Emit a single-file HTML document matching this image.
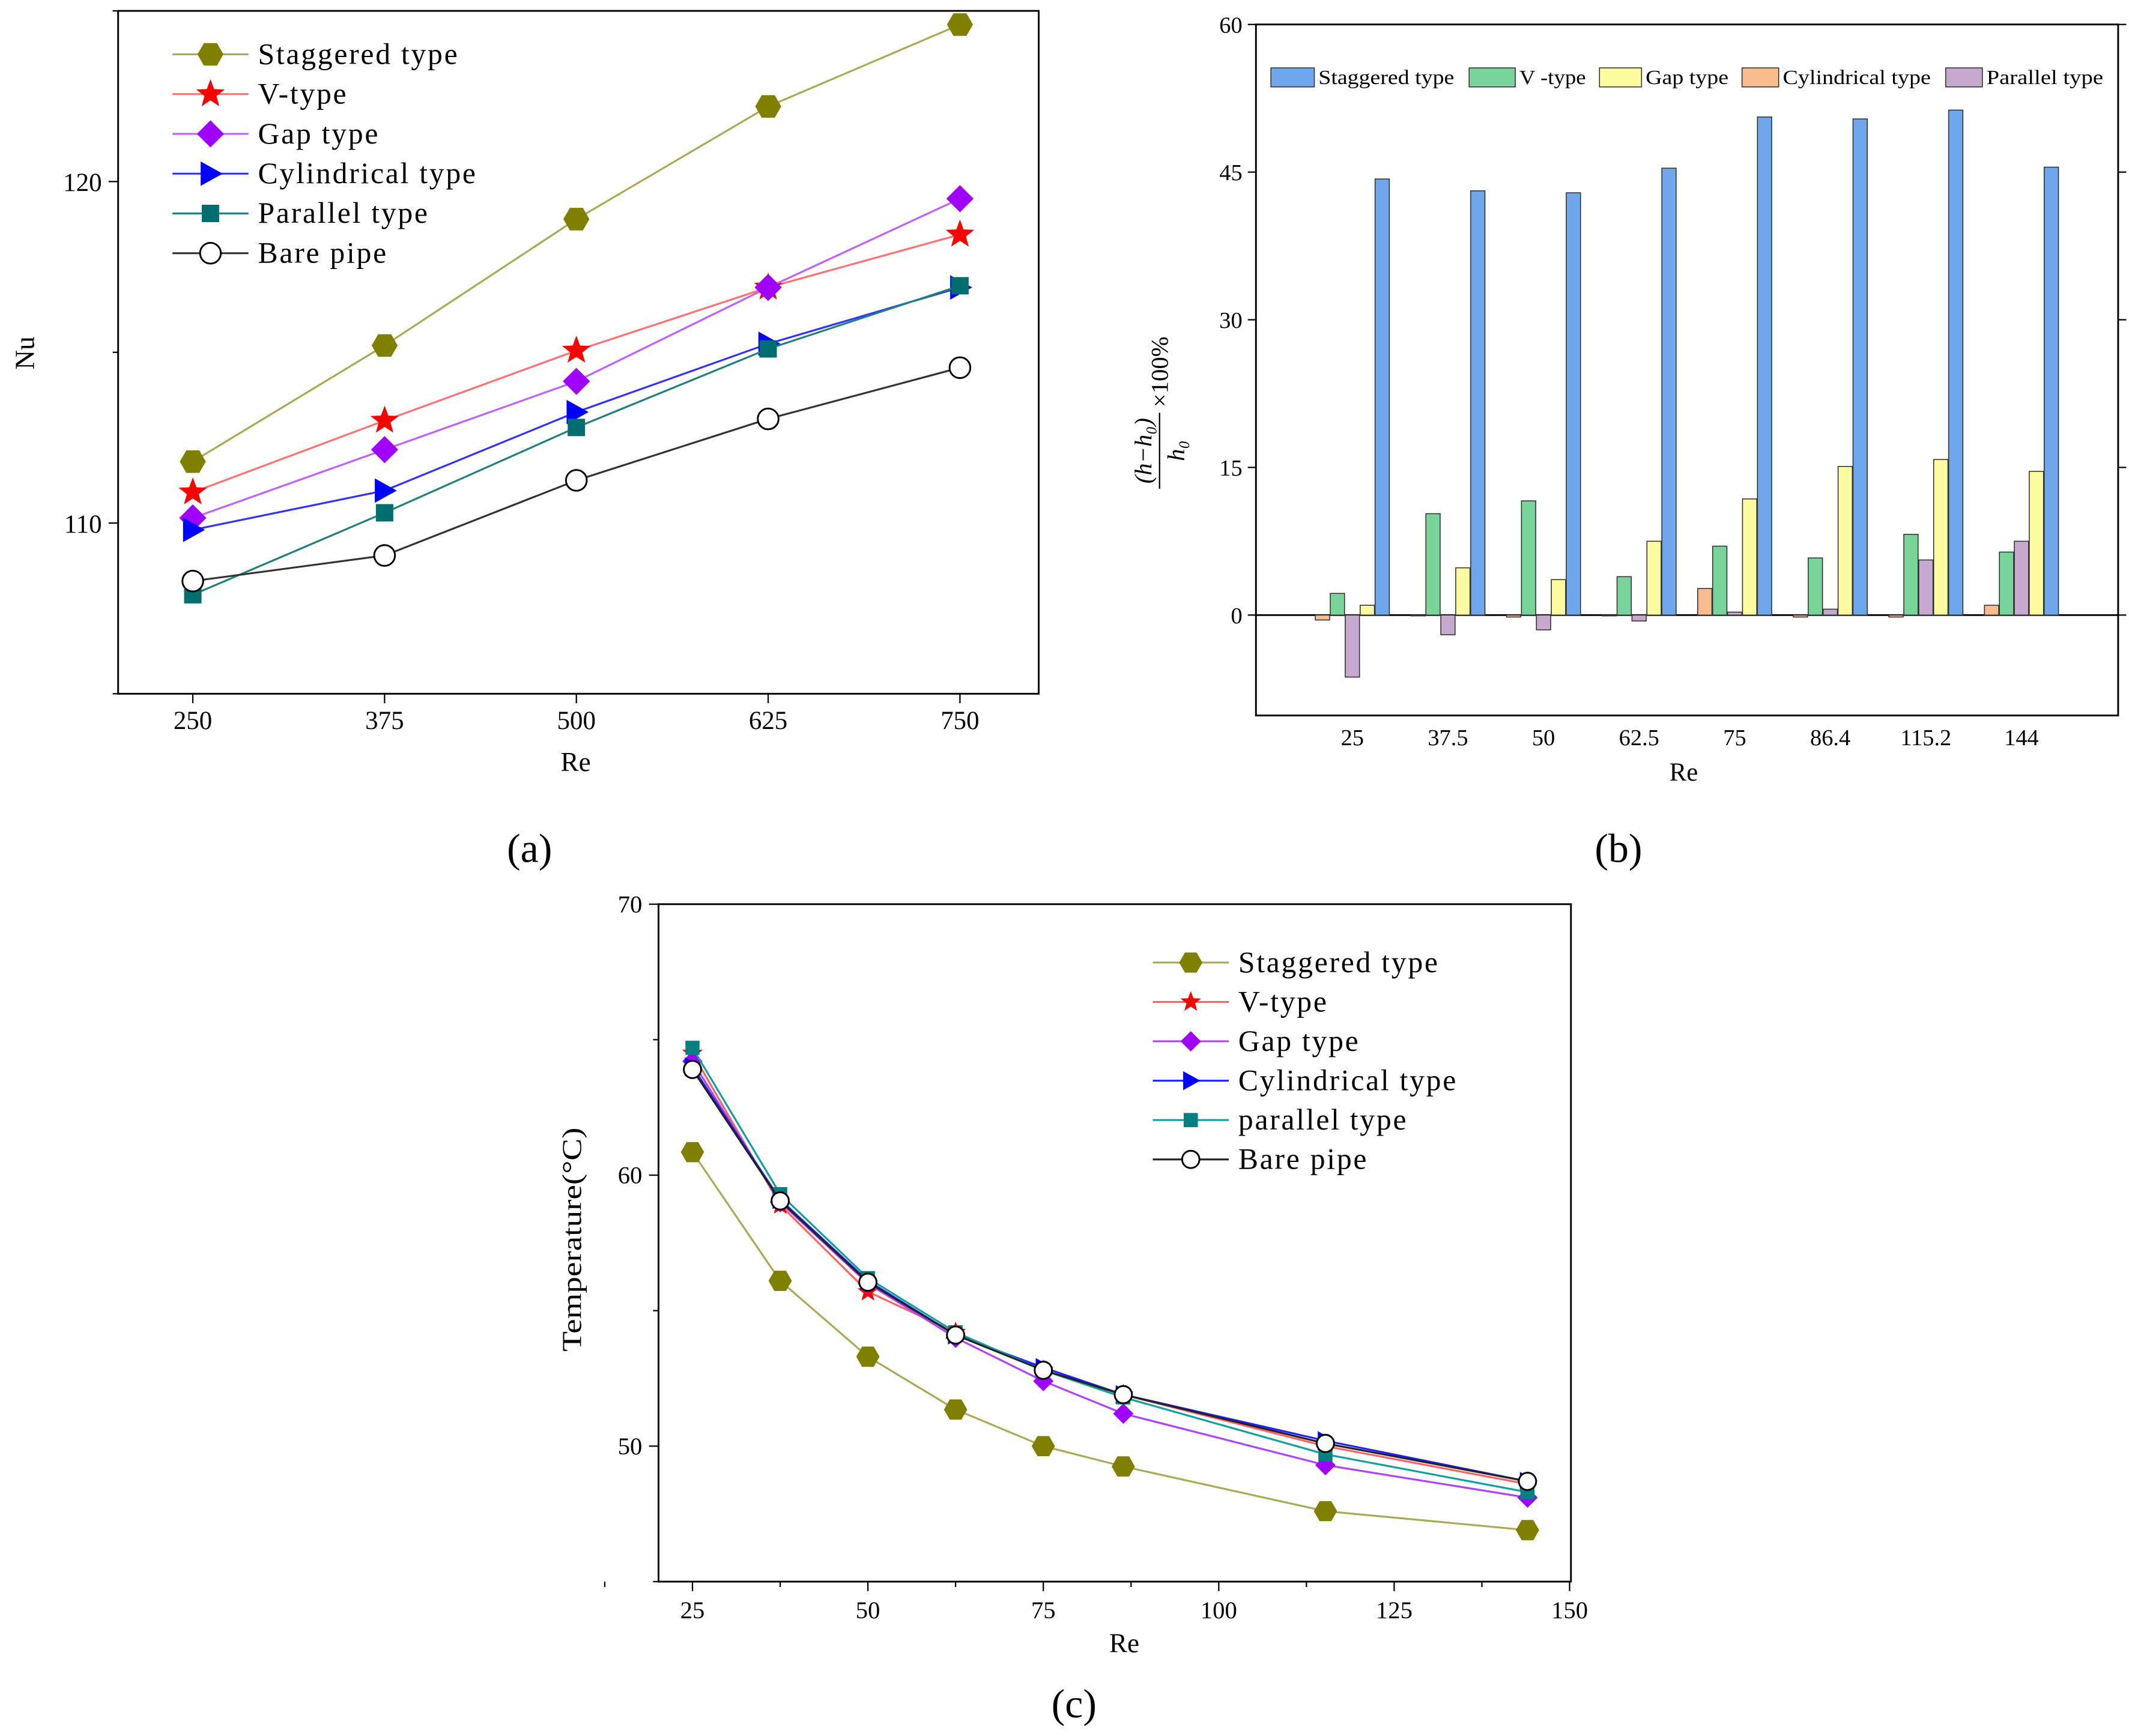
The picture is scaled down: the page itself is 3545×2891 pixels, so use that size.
<!DOCTYPE html>
<html><head><meta charset="utf-8">
<style>
html,body{margin:0;padding:0;background:#fff;}
svg{display:block;font-family:"Liberation Serif",serif;}
</style></head>
<body>
<svg id="fig" width="3545" height="2891" viewBox="0 0 1568 1278.7" xmlns="http://www.w3.org/2000/svg">
<rect width="1568" height="1279" fill="#fff"/>
</svg>
<script>
// ---------- Panel (a) data ----------
const aCategories = [250, 375, 500, 625, 750];
const aStaggered = [111.8, 115.2, 118.9, 122.2, 124.6];
const aVtype = [110.9, 113.0, 115.05, 116.9, 118.45];
const aGap = [110.15, 112.15, 114.15, 116.9, 119.5];
const aCylindrical = [109.8, 110.95, 113.25, 115.25, 116.9];
const aParallel = [107.9, 110.3, 112.8, 115.1, 116.95];
const aBare = [108.3, 109.05, 111.25, 113.05, 114.55];
const aYTicks = [110, 120];
// ---------- Panel (b) data ----------
const bCategories = ["25", "37.5", "50", "62.5", "75", "86.4", "115.2", "144"];
const bStaggered = [44.3, 43.1, 42.9, 45.4, 50.6, 50.4, 51.3, 45.5];
const bVtype = [2.2, 10.3, 11.6, 3.9, 7.0, 5.8, 8.2, 6.4];
const bGap = [1.0, 4.8, 3.6, 7.5, 11.8, 15.1, 15.8, 14.6];
const bCylindrical = [-0.5, 0, -0.2, 0, 2.7, -0.2, -0.2, 1.0];
const bParallel = [-6.3, -2.0, -1.5, -0.6, 0.3, 0.6, 5.6, 7.5];
const bYTicks = [0, 15, 30, 45, 60];
// ---------- Panel (c) data ----------
const cX = [25, 37.5, 50, 62.5, 75, 86.4, 115.2, 144];
const cStaggered = [60.85, 56.1, 53.3, 51.35, 50.0, 49.25, 47.6, 46.9];
const cVtype = [64.5, 58.9, 55.7, 54.2, 52.8, 51.9, 50.0, 48.6];
const cGap = [64.2, 59.0, 56.0, 54.0, 52.4, 51.2, 49.3, 48.1];
const cCylindrical = [64.0, 59.1, 56.1, 54.1, 52.9, 51.9, 50.2, 48.7];
const cParallel = [64.7, 59.3, 56.2, 54.2, 52.8, 51.8, 49.7, 48.3];
const cBare = [63.9, 59.05, 56.05, 54.1, 52.8, 51.9, 50.1, 48.7];
const cXTicks = [25, 50, 75, 100, 125, 150];
const cYTicks = [50, 60, 70];

const NS = "http://www.w3.org/2000/svg";
const svg = document.getElementById('fig');
function el(tag, attrs, parent, text) {
  const e = document.createElementNS(NS, tag);
  for (const k in attrs) e.setAttribute(k, attrs[k]);
  if (text !== undefined) e.textContent = text;
  (parent || svg).appendChild(e);
  return e;
}
function marker(g, type, x, y, fill, stroke, s) {
  let m;
  if (type === 'hex') {
    let p = [];
    for (let i = 0; i < 6; i++) { const a = Math.PI / 3 * i; p.push((x + s * Math.cos(a)).toFixed(1) + ',' + (y + s * Math.sin(a)).toFixed(1)); }
    m = el('polygon', {points: p.join(' '), fill: fill, stroke: stroke, 'stroke-width': 1}, g);
  } else if (type === 'star') {
    let p = [];
    for (let i = 0; i < 10; i++) { const r = i % 2 ? s * 0.42 : s; const a = -Math.PI / 2 + Math.PI / 5 * i; p.push((x + r * Math.cos(a)).toFixed(1) + ',' + (y + r * Math.sin(a)).toFixed(1)); }
    m = el('polygon', {points: p.join(' '), fill: fill}, g);
  } else if (type === 'diamond') {
    m = el('polygon', {points: `${x},${y - s} ${x + s},${y} ${x},${y + s} ${x - s},${y}`, fill: fill}, g);
  } else if (type === 'tri') {
    m = el('polygon', {points: `${x - s * 0.8},${y - s} ${x + s},${y} ${x - s * 0.8},${y + s}`, fill: fill}, g);
  } else if (type === 'square') {
    m = el('rect', {x: x - s * 0.8, y: y - s * 0.8, width: s * 1.6, height: s * 1.6, fill: fill}, g);
  } else {
    m = el('circle', {cx: x, cy: y, r: s * 0.85, fill: '#fff', stroke: '#000', 'stroke-width': 1.3}, g);
  }
  return m;
}

// ================= Panel (a) =================
const A = {x0: 87, x1: 765, y0: 8, y1: 511, ymin: 105, ymax: 125};
const ax = v => 142 + (v - 250) * (707 - 142) / 500;
const ay = v => A.y1 - (v - A.ymin) / (A.ymax - A.ymin) * (A.y1 - A.y0);
const ga = el('g', {});


el('rect', {x: A.x0, y: A.y0, width: A.x1 - A.x0, height: A.y1 - A.y0, fill: 'none', stroke: '#000', 'stroke-width': 1.3}, ga);
aCategories.forEach(c => {
  el('line', {x1: ax(c), x2: ax(c), y1: A.y1, y2: A.y1 + 7, stroke: '#000'}, ga);
  const t = el('text', {x: ax(c), y: 537, 'font-size': 19, 'text-anchor': 'middle'}, ga, c);
  
  
});
aYTicks.forEach(v => {
  el('line', {x1: A.x0 - 7, x2: A.x0, y1: ay(v), y2: ay(v), stroke: '#000'}, ga);
  el('line', {x1: A.x0 - 4, x2: A.x0, y1: ay(v - 5), y2: ay(v - 5), stroke: '#000'}, ga);
  const t = el('text', {x: A.x0 - 12, y: ay(v) + 7, 'font-size': 19, 'text-anchor': 'end'}, ga, v);
  
  
});
el('line', {x1: A.x0 - 4, x2: A.x0, y1: ay(125), y2: ay(125), stroke: '#000'}, ga);
const aXT = el('text', {x: 424, y: 568, 'font-size': 20, 'text-anchor': 'middle'}, ga, 'Re');


const aYT = el('text', {x: 25, y: 260, 'font-size': 20, 'text-anchor': 'middle', transform: 'rotate(-90 25 260)'}, ga, 'Nu');



const aSeries = [
  {name: 'Staggered type', d: aStaggered, line: '#aaaa55', fill: '#808000', m: 'hex', s: 9},
  {name: 'V-type', d: aVtype, line: '#ff7070', fill: '#ff0000', m: 'star', s: 11},
  {name: 'Gap type', d: aGap, line: '#c060ff', fill: '#a000ff', m: 'diamond', s: 10},
  {name: 'Cylindrical type', d: aCylindrical, line: '#3030ff', fill: '#0000ff', m: 'tri', s: 9},
  {name: 'Parallel type', d: aParallel, line: '#208080', fill: '#006e6e', m: 'square', s: 8},
  {name: 'Bare pipe', d: aBare, line: '#333', fill: '#fff', m: 'circle', s: 9}
];
aSeries.forEach((s, i) => {
  const g = el('g', {}, ga);
  
  
  const pts = s.d.map((v, j) => ax(aCategories[j]) + ',' + ay(v)).join(' ');
  el('polyline', {points: pts, fill: 'none', stroke: s.line, 'stroke-width': 1.4}, g);
  s.d.forEach((v, j) => marker(g, s.m, ax(aCategories[j]), ay(v), s.fill, s.fill, s.s));
  const ly = 40 + i * 29.3;
  const lg = el('g', {}, ga);
  
  
  el('line', {x1: 127, x2: 183, y1: ly, y2: ly, stroke: s.line, 'stroke-width': 1.4}, lg);
  marker(lg, s.m, 155, ly, s.fill, s.fill, s.s);
  el('text', {x: 190, y: ly + 7, 'font-size': 22, 'letter-spacing': 1.2}, lg, s.name);
});
const capA = el('text', {x: 390, y: 635, 'font-size': 30, 'text-anchor': 'middle'}, svg, '(a)');



// ================= Panel (b) =================
const B = {x0: 925, x1: 1560, y0: 18, y1: 527, ymin: -10.2, ymax: 60};
const by = v => B.y1 - (v - B.ymin) / (B.ymax - B.ymin) * (B.y1 - B.y0);
const bx = i => 996 + i * 70.4;
const gb = el('g', {});


el('rect', {x: B.x0, y: B.y0, width: B.x1 - B.x0, height: B.y1 - B.y0, fill: 'none', stroke: '#000', 'stroke-width': 1.3}, gb);
bYTicks.forEach(v => {
  el('line', {x1: B.x0 - 6, x2: B.x0, y1: by(v), y2: by(v), stroke: '#000'}, gb);
  el('line', {x1: B.x1, x2: B.x1 + 6, y1: by(v), y2: by(v), stroke: '#000'}, gb);
  const t = el('text', {x: B.x0 - 10, y: by(v) + 6, 'font-size': 17, 'text-anchor': 'end'}, gb, v);
  
  
});
el('line', {x1: B.x0, x2: B.x1, y1: by(0), y2: by(0), stroke: '#000', 'stroke-width': 1.3}, gb);
bCategories.forEach((c, i) => {
  const t = el('text', {x: bx(i), y: 549, 'font-size': 17, 'text-anchor': 'middle'}, gb, c);
  
  
});
const bSeries = [
  {name: 'Cylindrical type', d: bCylindrical, fill: '#f9bc8f', off: -22},
  {name: 'V -type', d: bVtype, fill: '#79d49a', off: -11},
  {name: 'Parallel type', d: bParallel, fill: '#c7a9cf', off: 0},
  {name: 'Gap type', d: bGap, fill: '#fdfba0', off: 11},
  {name: 'Staggered type', d: bStaggered, fill: '#6ea7ec', off: 22}
];
const bw = 10.5;
bSeries.forEach(s => {
  const g = el('g', {}, gb);
  
  
  s.d.forEach((v, i) => {
    const y = Math.min(by(v), by(0)), h = Math.abs(by(v) - by(0));
    const r = el('rect', {x: bx(i) + s.off - bw / 2, y: y, width: bw, height: Math.max(h, 0.6), fill: s.fill, stroke: '#333', 'stroke-width': 0.7}, g);
    
    
  });
});
const bLegend = [
  {name: 'Staggered type', fill: '#6ea7ec', x: 936, w: 32, tl: 100},
  {name: 'V -type', fill: '#79d49a', x: 1082, w: 34, tl: 49},
  {name: 'Gap type', fill: '#fdfba0', x: 1178, w: 31, tl: 61},
  {name: 'Cylindrical type', fill: '#f9bc8f', x: 1283, w: 27, tl: 109},
  {name: 'Parallel type', fill: '#c7a9cf', x: 1433, w: 27, tl: 86}
];
bLegend.forEach(l => {
  const g = el('g', {}, gb);
  
  
  el('rect', {x: l.x, y: 50, width: l.w, height: 14, fill: l.fill, stroke: '#333', 'stroke-width': 0.7}, g);
  el('text', {x: l.x + l.w + 3, y: 62, 'font-size': 15, textLength: l.tl, lengthAdjust: 'spacingAndGlyphs'}, g, l.name);
});
const bXT = el('text', {x: 1240, y: 575, 'font-size': 19, 'text-anchor': 'middle'}, gb, 'Re');


const bYT = el('g', {transform: 'translate(852 290) rotate(-90)'}, gb);


el('text', {x: -42, y: -4, 'font-size': 18, 'font-style': 'italic', 'text-anchor': 'middle'}, bYT, '(h−h\u2080)');
el('line', {x1: -70, x2: -14, y1: 2, y2: 2, stroke: '#000'}, bYT);
el('text', {x: -42, y: 20, 'font-size': 18, 'font-style': 'italic', 'text-anchor': 'middle'}, bYT, 'h\u2080');
el('text', {x: -10, y: 8, 'font-size': 18}, bYT, '×100%');
const capB = el('text', {x: 1192, y: 635, 'font-size': 30, 'text-anchor': 'middle'}, svg, '(b)');



// ================= Panel (c) =================
const C = {x0: 485, x1: 1157, y0: 666, y1: 1165, ymin: 45, ymax: 70};
const cx = v => 510 + (v - 25) * (1156 - 510) / 125;
const cy = v => C.y1 - (v - C.ymin) / (C.ymax - C.ymin) * (C.y1 - C.y0);
const gc = el('g', {});


el('rect', {x: C.x0, y: C.y0, width: C.x1 - C.x0, height: C.y1 - C.y0, fill: 'none', stroke: '#000', 'stroke-width': 1.3}, gc);
cXTicks.forEach(v => {
  el('line', {x1: cx(v), x2: cx(v), y1: C.y1, y2: C.y1 + 7, stroke: '#000'}, gc);
  el('line', {x1: cx(v - 12.5), x2: cx(v - 12.5), y1: C.y1, y2: C.y1 + 4, stroke: '#000'}, gc);
  const t = el('text', {x: cx(v), y: 1192, 'font-size': 18, 'text-anchor': 'middle'}, gc, v);
  
  
});
cYTicks.forEach(v => {
  el('line', {x1: C.x0 - 7, x2: C.x0, y1: cy(v), y2: cy(v), stroke: '#000'}, gc);
  el('line', {x1: C.x0 - 4, x2: C.x0, y1: cy(v - 5), y2: cy(v - 5), stroke: '#000'}, gc);
  const t = el('text', {x: C.x0 - 12, y: cy(v) + 6, 'font-size': 18, 'text-anchor': 'end'}, gc, v);
  
  
});
const cXT = el('text', {x: 828, y: 1217, 'font-size': 20, 'text-anchor': 'middle'}, gc, 'Re');


const cYT = el('text', {x: 428, y: 913, 'font-size': 20, 'text-anchor': 'middle', textLength: 165, lengthAdjust: 'spacingAndGlyphs', transform: 'rotate(-90 428 913)'}, gc, 'Temperature(°C)');


const cSeries = [
  {name: 'Staggered type', d: cStaggered, line: '#aaaa55', fill: '#808000', m: 'hex', s: 8},
  {name: 'V-type', d: cVtype, line: '#ff6060', fill: '#ff0000', m: 'star', s: 8},
  {name: 'Gap type', d: cGap, line: '#b040ff', fill: '#a000ff', m: 'diamond', s: 7.5},
  {name: 'Cylindrical type', d: cCylindrical, line: '#2020ff', fill: '#0000ff', m: 'tri', s: 7},
  {name: 'parallel type', d: cParallel, line: '#10a0a0', fill: '#008080', m: 'square', s: 6.5},
  {name: 'Bare pipe', d: cBare, line: '#222', fill: '#fff', m: 'circle', s: 7.5}
];
cSeries.forEach((s, i) => {
  const g = el('g', {}, gc);
  
  
  const pts = s.d.map((v, j) => cx(cX[j]) + ',' + cy(v)).join(' ');
  el('polyline', {points: pts, fill: 'none', stroke: s.line, 'stroke-width': 1.4}, g);
  s.d.forEach((v, j) => marker(g, s.m, cx(cX[j]), cy(v), s.fill, s.fill, s.s));
  const ly = 709 + i * 29;
  const lg = el('g', {}, gc);
  
  
  el('line', {x1: 849, x2: 905, y1: ly, y2: ly, stroke: s.line, 'stroke-width': 1.4}, lg);
  marker(lg, s.m, 877, ly, s.fill, s.fill, s.s);
  el('text', {x: 912, y: ly + 7, 'font-size': 22, 'letter-spacing': 1.2}, lg, s.name);
});
const capC = el('text', {x: 791, y: 1265, 'font-size': 30, 'text-anchor': 'middle'}, svg, '(c)');


</script>
</body></html>
